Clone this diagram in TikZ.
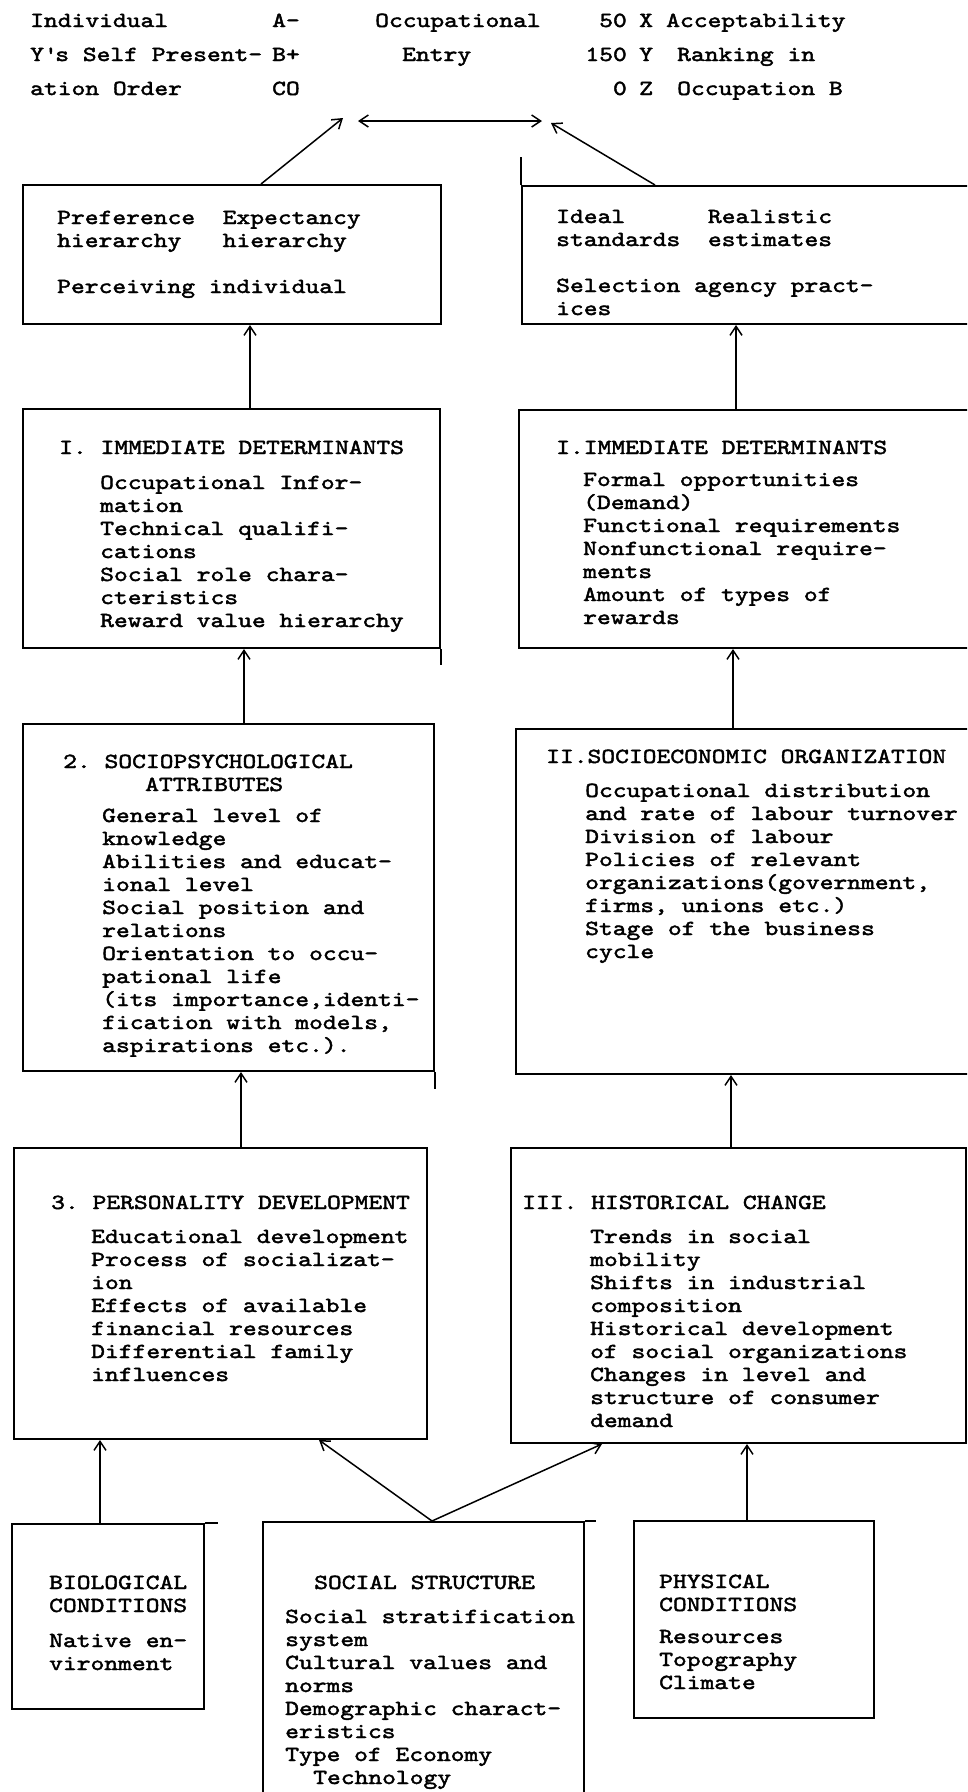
\documentclass[tikz,border=0pt]{standalone}
\usepackage{fontspec}
\newfontfamily\tw{lmmono10-regular.otf}[FakeStretch=1.222, FakeBold=2]
\usetikzlibrary{arrows.meta}
\newcommand\blk[1]{\begin{tabular}[t]{@{}l@{}}#1\end{tabular}}
\newcommand\rblk[1]{\begin{tabular}[t]{@{}r@{}}#1\end{tabular}}
\tikzset{
  box/.style={draw, line width=2pt, inner sep=0pt, anchor=north west, rectangle},
  txt/.style={anchor=base west, inner sep=0pt, font=\tw\fontsize{21.5pt}{23pt}\selectfont\frenchspacing},
  hdr/.style={anchor=base west, inner sep=0pt, font=\tw\fontsize{21.5pt}{34pt}\selectfont\frenchspacing},
  arr/.style={line width=1.5pt, -{Straight Barb[length=9pt,width=12pt,line width=1.5pt]}},
  darr/.style={line width=1.5pt, {Straight Barb[length=9pt,width=12pt,line width=1.5pt]}-{Straight Barb[length=9pt,width=12pt,line width=1.5pt]}},
  stray/.style={line width=2pt}
}
\begin{document}
\begin{tikzpicture}[x=1pt,y=-1pt]
\useasboundingbox (0,0) rectangle (967,1792);
\fill[white] (0,0) rectangle (967,1792);
\clip (0,0) rectangle (967,1792);

% header
\node[hdr] (h1) at (30,27) {\blk{Individual\\Y\textquotesingle s Self Present-\\ation Order}};
\node[hdr] (h2) at (272,27) {\blk{A-\\B+\\CO}};
\node[hdr] (h3) at (375,27) {Occupational};
\node[hdr] (h4) at (402,61) {Entry};
\node[hdr, anchor=base east] (h5) at (627,27) {\rblk{50\\150\\0}};
\node[hdr] (h6) at (639,27) {\blk{X\\Y\\Z}};
\node[hdr] (h7) at (666,27) {Acceptability};
\node[hdr] (h8) at (677,61) {\blk{Ranking in\\Occupation B}};

\coordinate (L) at (343,118);
\coordinate (R) at (551,123);
\coordinate (dl) at (358,121);
\coordinate (dr) at (542,121);

% boxes
\node[box, minimum width=418pt, minimum height=139pt] (b1) at (21.6,184) {};
\node[box, minimum width=460pt, minimum height=138pt] (b2) at (521,185) {};
\node[box, minimum width=417pt, minimum height=239pt] (b3) at (22,408) {};
\node[box, minimum width=460pt, minimum height=238pt] (b4) at (518,409) {};
\node[box, minimum width=411pt, minimum height=347pt] (b5) at (22,723) {};
\node[box, minimum width=460pt, minimum height=345pt] (b6) at (515,728) {};
\node[box, minimum width=413pt, minimum height=291pt] (b7) at (13,1147) {};
\node[box, minimum width=455pt, minimum height=295pt] (b8) at (510,1147) {};
\node[box, minimum width=192pt, minimum height=185pt] (b9) at (11,1523) {};
\node[box, minimum width=321pt, minimum height=300pt] (b10) at (262,1521) {};
\node[box, minimum width=240pt, minimum height=197pt] (b11) at (633,1520) {};

% stray overshoots of the hand-drawn boxes
\draw[stray] (b2.north west) -- ++(0,-28);
\draw[stray] (b3.south east) -- ++(0,16);
\draw[stray] (b5.south east) -- ++(0,17);
\draw[stray] (b9.north east) -- ++(13,0);
\draw[stray] (b10.north east) -- ++(11,0);

% texts
\node[txt] (t1) at (57,224) {\blk{Preference\ \ Expectancy\\hierarchy\ \ \ hierarchy\\[23pt]Perceiving individual}};
\node[txt] (t2) at (556,223) {\blk{Ideal\ \ \ \ \ \ Realistic\\standards\ \ estimates\\[23pt]Selection agency pract-\\ices}};

\node[txt] (t3a) at (59,454) {I. IMMEDIATE DETERMINANTS};
\node[txt] (t3b) at (100,489) {\blk{Occupational Infor-\\mation\\Technical qualifi-\\cations\\Social role chara-\\cteristics\\Reward value hierarchy}};

\node[txt] (t4a) at (556,454) {I.IMMEDIATE DETERMINANTS};
\node[txt] (t4b) at (583,486) {\blk{Formal opportunities\\(Demand)\\Functional requirements\\Nonfunctional require-\\ments\\Amount of types of\\rewards}};

\node[txt] (t5a) at (63,768) {\blk{2. SOCIOPSYCHOLOGICAL\\\hspace*{82pt}ATTRIBUTES}};
\node[txt] (t5b) at (102,822) {\blk{General level of\\knowledge\\Abilities and educat-\\ional level\\Social position and\\relations\\Orientation to occu-\\pational life\\(its importance,identi-\\fication with models,\\aspirations etc.).}};

\node[txt] (t6a) at (546,763) {II.SOCIOECONOMIC ORGANIZATION};
\node[txt] (t6b) at (585,797) {\blk{Occupational distribution\\and rate of labour turnover\\Division of labour\\Policies of relevant\\organizations(government,\\firms, unions etc.)\\Stage of the business\\cycle}};

\node[txt] (t7a) at (51,1209) {3. PERSONALITY DEVELOPMENT};
\node[txt] (t7b) at (91,1243) {\blk{Educational development\\Process of socializat-\\ion\\Effects of available\\financial resources\\Differential family\\influences}};

\node[txt] (t8a) at (522,1209) {III. HISTORICAL CHANGE};
\node[txt] (t8b) at (590,1243) {\blk{Trends in social\\mobility\\Shifts in industrial\\composition\\Historical development\\of social organizations\\Changes in level and\\structure of consumer\\demand}};

\node[txt] (t9a) at (49,1589) {\blk{BIOLOGICAL\\CONDITIONS}};
\node[txt] (t9b) at (49,1647) {\blk{Native en-\\vironment}};

\node[txt] (t10a) at (314,1589) {SOCIAL STRUCTURE};
\node[txt] (t10b) at (285,1623) {\blk{Social stratification\\system\\Cultural values and\\norms\\Demographic charact-\\eristics\\Type of Economy\\\hspace*{28pt}Technology}};

\node[txt] (t11a) at (659,1588) {\blk{PHYSICAL\\CONDITIONS}};
\node[txt] (t11b) at (659,1643) {\blk{Resources\\Topography\\Climate}};

% x positions of vertical connectors
\coordinate (x1) at (250,0);
\coordinate (x2) at (736,0);
\coordinate (x3) at (244,0);
\coordinate (x4) at (733,0);
\coordinate (x5) at (241,0);
\coordinate (x6) at (731,0);
\coordinate (x7) at (100,0);
\coordinate (x8) at (747,0);
\coordinate (xs) at (432,0);
\coordinate (xl) at (319,0);
\coordinate (xr) at (602,0);
\coordinate (xb1) at (261,0);
\coordinate (xb2) at (655,0);

% connectors
\draw[arr] (b1.north -| xb1) -- (L);
\draw[arr] (b2.north -| xb2) -- (R);
\draw[darr] (dl) -- (dr);
\draw[arr] (b3.north -| x1) -- (b1.south -| x1);
\draw[arr] (b4.north -| x2) -- (b2.south -| x2);
\draw[arr] (b5.north -| x3) -- (b3.south -| x3);
\draw[arr] (b6.north -| x4) -- (b4.south -| x4);
\draw[arr] (b7.north -| x5) -- (b5.south -| x5);
\draw[arr] (b8.north -| x6) -- (b6.south -| x6);
\draw[arr] (b9.north -| x7) -- (b7.south -| x7);
\draw[arr] (b10.north -| xs) -- (b7.south -| xl);
\draw[arr] (b10.north -| xs) -- (b8.south -| xr);
\draw[arr] (b11.north -| x8) -- (b8.south -| x8);
\end{tikzpicture}
\end{document}
